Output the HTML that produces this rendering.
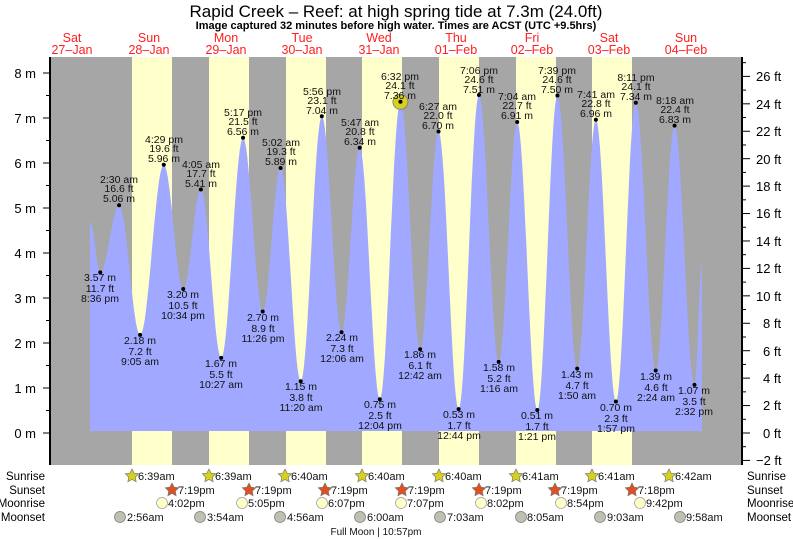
<!DOCTYPE html>
<html><head><meta charset="utf-8"><style>
html,body{margin:0;padding:0;background:#fff}
svg{display:block;font-family:"Liberation Sans",sans-serif}
</style></head><body>
<svg id="s" width="793" height="539" viewBox="0 0 793 539" xmlns="http://www.w3.org/2000/svg">
<rect x="50" y="57" width="692" height="408" fill="#a6a6a6"/>
<g fill="#ffffcc">
<rect x="132" y="57" width="40" height="408"/>
<rect x="209" y="57" width="40" height="408"/>
<rect x="286" y="57" width="40" height="408"/>
<rect x="362" y="57" width="40" height="408"/>
<rect x="439" y="57" width="40" height="408"/>
<rect x="516" y="57" width="40" height="408"/>
<rect x="592" y="57" width="40" height="408"/>
</g>
<path id="tide" fill="#a0a9ff" d=""/>
<g id="ticks" stroke="#000" stroke-width="1"></g>
<line x1="50" y1="57" x2="50" y2="465" stroke="#000" stroke-width="2"/>
<line x1="742" y1="57" x2="742" y2="465" stroke="#000" stroke-width="2"/>
<circle cx="400.4" cy="101.8" r="7.5" fill="#d8d020" stroke="#777" stroke-width="0.8"/>
<g id="dots" fill="#000"></g>

<text x="396" y="17" font-size="17" text-anchor="middle">Rapid Creek – Reef: at high  spring tide at 7.3m (24.0ft)</text>
<text x="396" y="29" font-size="11" font-weight="bold" text-anchor="middle">Image captured 32 minutes before high water. Times are ACST (UTC +9.5hrs)</text>
<g font-size="12.5" fill="#ff2020" text-anchor="middle">
<text x="72" y="42">Sat</text><text x="72" y="54">27–Jan</text>
<text x="149" y="42">Sun</text><text x="149" y="54">28–Jan</text>
<text x="226" y="42">Mon</text><text x="226" y="54">29–Jan</text>
<text x="302" y="42">Tue</text><text x="302" y="54">30–Jan</text>
<text x="379" y="42">Wed</text><text x="379" y="54">31–Jan</text>
<text x="456" y="42">Thu</text><text x="456" y="54">01–Feb</text>
<text x="532" y="42">Fri</text><text x="532" y="54">02–Feb</text>
<text x="609" y="42">Sat</text><text x="609" y="54">03–Feb</text>
<text x="686" y="42">Sun</text><text x="686" y="54">04–Feb</text>
</g>
<g font-size="13" text-anchor="end">
<text x="36" y="438">0 m</text><text x="36" y="393">1 m</text><text x="36" y="348">2 m</text><text x="36" y="303">3 m</text><text x="36" y="258">4 m</text><text x="36" y="213">5 m</text><text x="36" y="168">6 m</text><text x="36" y="123">7 m</text><text x="36" y="78">8 m</text>
</g>
<g font-size="13">
<text x="756" y="465">−2 ft</text><text x="763" y="438">0 ft</text><text x="763" y="410">2 ft</text><text x="763" y="383">4 ft</text><text x="763" y="356">6 ft</text><text x="763" y="328">8 ft</text><text x="756" y="301">10 ft</text><text x="756" y="273">12 ft</text><text x="756" y="246">14 ft</text><text x="756" y="218">16 ft</text><text x="756" y="191">18 ft</text><text x="756" y="164">20 ft</text><text x="756" y="136">22 ft</text><text x="756" y="109">24 ft</text><text x="756" y="81">26 ft</text>
</g>
<g font-size="10.5" text-anchor="middle" fill="#111">
<text x="100" y="281">3.57 m</text><text x="100" y="292">11.7 ft</text><text x="100" y="302">8:36 pm</text>
<text x="119" y="183">2:30 am</text><text x="119" y="192">16.6 ft</text><text x="119" y="202">5.06 m</text>
<text x="140" y="344">2.18 m</text><text x="140" y="355">7.2 ft</text><text x="140" y="365">9:05 am</text>
<text x="164" y="143">4:29 pm</text><text x="164" y="152">19.6 ft</text><text x="164" y="162">5.96 m</text>
<text x="183" y="298">3.20 m</text><text x="183" y="309">10.5 ft</text><text x="183" y="319">10:34 pm</text>
<text x="201" y="168">4:05 am</text><text x="201" y="177">17.7 ft</text><text x="201" y="187">5.41 m</text>
<text x="221" y="367">1.67 m</text><text x="221" y="378">5.5 ft</text><text x="221" y="388">10:27 am</text>
<text x="243" y="116">5:17 pm</text><text x="243" y="125">21.5 ft</text><text x="243" y="135">6.56 m</text>
<text x="263" y="321">2.70 m</text><text x="263" y="332">8.9 ft</text><text x="263" y="342">11:26 pm</text>
<text x="281" y="146">5:02 am</text><text x="281" y="155">19.3 ft</text><text x="281" y="165">5.89 m</text>
<text x="301" y="390">1.15 m</text><text x="301" y="401">3.8 ft</text><text x="301" y="411">11:20 am</text>
<text x="322" y="95">5:56 pm</text><text x="322" y="104">23.1 ft</text><text x="322" y="114">7.04 m</text>
<text x="342" y="341">2.24 m</text><text x="342" y="352">7.3 ft</text><text x="342" y="362">12:06 am</text>
<text x="360" y="126">5:47 am</text><text x="360" y="135">20.8 ft</text><text x="360" y="145">6.34 m</text>
<text x="380" y="408">0.75 m</text><text x="380" y="419">2.5 ft</text><text x="380" y="429">12:04 pm</text>
<text x="400" y="80">6:32 pm</text><text x="400" y="89">24.1 ft</text><text x="400" y="99">7.36 m</text>
<text x="420" y="358">1.86 m</text><text x="420" y="369">6.1 ft</text><text x="420" y="379">12:42 am</text>
<text x="438" y="110">6:27 am</text><text x="438" y="119">22.0 ft</text><text x="438" y="129">6.70 m</text>
<text x="459" y="418">0.53 m</text><text x="459" y="429">1.7 ft</text><text x="459" y="439">12:44 pm</text>
<text x="479" y="74">7:06 pm</text><text x="479" y="83">24.6 ft</text><text x="479" y="93">7.51 m</text>
<text x="499" y="371">1.58 m</text><text x="499" y="382">5.2 ft</text><text x="499" y="392">1:16 am</text>
<text x="517" y="100">7:04 am</text><text x="517" y="109">22.7 ft</text><text x="517" y="119">6.91 m</text>
<text x="537" y="419">0.51 m</text><text x="537" y="430">1.7 ft</text><text x="537" y="440">1:21 pm</text>
<text x="557" y="74">7:39 pm</text><text x="557" y="83">24.6 ft</text><text x="557" y="93">7.50 m</text>
<text x="577" y="378">1.43 m</text><text x="577" y="389">4.7 ft</text><text x="577" y="399">1:50 am</text>
<text x="596" y="98">7:41 am</text><text x="596" y="107">22.8 ft</text><text x="596" y="117">6.96 m</text>
<text x="616" y="411">0.70 m</text><text x="616" y="422">2.3 ft</text><text x="616" y="432">1:57 pm</text>
<text x="636" y="81">8:11 pm</text><text x="636" y="90">24.1 ft</text><text x="636" y="100">7.34 m</text>
<text x="656" y="380">1.39 m</text><text x="656" y="391">4.6 ft</text><text x="656" y="401">2:24 am</text>
<text x="675" y="104">8:18 am</text><text x="675" y="113">22.4 ft</text><text x="675" y="123">6.83 m</text>
<text x="694" y="394">1.07 m</text><text x="694" y="405">3.5 ft</text><text x="694" y="415">2:32 pm</text>
</g>
<g font-size="11.5" text-anchor="end">
<text x="45" y="480">Sunrise</text><text x="45" y="494">Sunset</text><text x="45" y="507">Moonrise</text><text x="45" y="521">Moonset</text>
</g>
<g font-size="11.5">
<text x="747" y="480">Sunrise</text><text x="747" y="494">Sunset</text><text x="747" y="507">Moonrise</text><text x="747" y="521">Moonset</text>
</g>
<g id="icons"></g>
<g font-size="11" fill="#111">
<text x="138" y="480">6:39am</text><text x="215" y="480">6:39am</text><text x="291" y="480">6:40am</text><text x="368" y="480">6:40am</text><text x="445" y="480">6:40am</text><text x="522" y="480">6:41am</text><text x="598" y="480">6:41am</text><text x="675" y="480">6:42am</text>
<text x="178" y="494">7:19pm</text><text x="255" y="494">7:19pm</text><text x="331" y="494">7:19pm</text><text x="408" y="494">7:19pm</text><text x="485" y="494">7:19pm</text><text x="561" y="494">7:19pm</text><text x="638" y="494">7:18pm</text>
<text x="168" y="507">4:02pm</text><text x="248" y="507">5:05pm</text><text x="328" y="507">6:07pm</text><text x="407" y="507">7:07pm</text><text x="487" y="507">8:02pm</text><text x="567" y="507">8:54pm</text><text x="646" y="507">9:42pm</text>
<text x="127" y="521">2:56am</text><text x="207" y="521">3:54am</text><text x="287" y="521">4:56am</text><text x="367" y="521">6:00am</text><text x="447" y="521">7:03am</text><text x="527" y="521">8:05am</text><text x="607" y="521">9:03am</text><text x="686" y="521">9:58am</text>
<text x="376" y="535" font-size="10" text-anchor="middle">Full Moon | 10:57pm</text>
</g>
</svg>
<script>
(function(){
var X=function(h){return 34.4+h*3.196},Y=function(m){return 433-m*45};
var p=[[17.4,4.7],[20.6,3.57],[26.5,5.06],[33.08,2.18],[40.48,5.96],[46.57,3.20],[52.08,5.41],[58.45,1.67],[65.28,6.56],[71.43,2.70],[77.03,5.89],[83.33,1.15],[89.93,7.04],[96.1,2.24],[101.78,6.34],[108.07,0.75],[114.53,7.36],[120.7,1.86],[126.45,6.70],[132.73,0.53],[139.1,7.51],[145.27,1.58],[151.07,6.91],[157.35,0.51],[163.65,7.50],[169.83,1.43],[175.68,6.96],[181.95,0.70],[188.18,7.34],[194.4,1.39],[200.3,6.83],[206.53,1.07],[208.9,3.75]];
var d="M"+X(p[0][0])+",431 L"+X(p[0][0])+","+Y(p[0][1]);
for(var i=0;i<p.length-1;i++){var a=p[i],b=p[i+1];for(var k=1;k<=20;k++){var t=k/20,h=a[0]+(b[0]-a[0])*t,m=a[1]+(b[1]-a[1])*(1-Math.cos(Math.PI*t))/2;d+=" L"+X(h).toFixed(1)+","+Y(m).toFixed(1);}}
d+=" L"+X(p[p.length-1][0])+",431 Z";
document.getElementById("tide").setAttribute("d",d);
var ns="http://www.w3.org/2000/svg",g=document.getElementById("dots");
for(i=1;i<p.length-1;i++){var c=document.createElementNS(ns,"circle");c.setAttribute("cx",X(p[i][0]));c.setAttribute("cy",Y(p[i][1]));c.setAttribute("r",2);g.appendChild(c);}
var tk=document.getElementById("ticks"),s="";
for(var m=0;m<=8.6;m+=0.5){var y=Y(m);if(y<57)break;s+='<line x1="'+(m%1?46:43)+'" y1="'+y+'" x2="50" y2="'+y+'"/>';}
for(var f=-2;f<=27;f++){var y2=433-f*13.716;if(y2<57||y2>465)continue;s+='<line x1="742" y1="'+y2+'" x2="'+(f%2?746:750)+'" y2="'+y2+'"/>';}
tk.innerHTML=s;
function star(cx,cy,col){var pts=[];for(var j=0;j<10;j++){var r=j%2?3.5:7,a=-Math.PI/2+j*Math.PI/5;pts.push((cx+r*Math.cos(a)).toFixed(1)+","+(cy+r*Math.sin(a)).toFixed(1));}return '<polygon points="'+pts.join(" ")+'" fill="'+col+'" stroke="#777" stroke-width="0.7"/>';}
var ic="";
[132,209,285,362,439,516,592,669].forEach(function(x){ic+=star(x,476,"#d8d020");});
[172,249,325,402,479,555,632].forEach(function(x){ic+=star(x,490,"#e05020");});
[162,242,322,401,481,561,640].forEach(function(x){ic+='<circle cx="'+x+'" cy="503" r="5.5" fill="#ffffc8" stroke="#999" stroke-width="0.7"/>';});
[120,200,280,360,440,521,600,680].forEach(function(x){ic+='<circle cx="'+x+'" cy="517" r="5.5" fill="#c0c0b0" stroke="#777" stroke-width="0.7"/>';});
document.getElementById("icons").innerHTML=ic;
})();
</script>
</body></html>
